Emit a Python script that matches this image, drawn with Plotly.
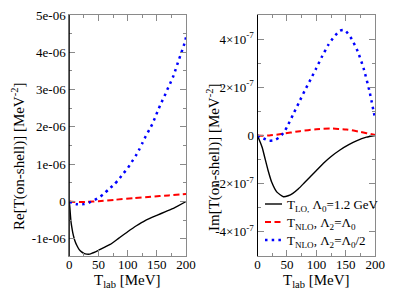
import plotly.graph_objects as go

# ---------------- data ----------------
# Left panel: Re[T(on-shell)]  (MeV^-2)
re_lo_T = [0, 1, 2, 3, 4, 6, 8, 10, 13, 17, 21, 25, 30, 35, 40, 50, 60, 70, 85, 100, 115, 130, 150, 165, 180, 200]
re_lo_V = [0, -0.17, -0.38, -0.55, -0.66, -0.84, -0.97, -1.07, -1.18, -1.29, -1.35, -1.39, -1.41, -1.41, -1.38,
           -1.31, -1.23, -1.15, -0.98, -0.81, -0.65, -0.51, -0.37, -0.27, -0.17, 0.0]
re_nlo1_T = [0, 10, 20, 30, 50, 80, 110, 140, 170, 200]
re_nlo1_V = [0, -0.01, -0.015, -0.01, 0.01, 0.05, 0.09, 0.13, 0.165, 0.2]
re_nlo2_T = [0, 5, 13, 25, 37, 48, 58, 67, 77, 85, 93, 100, 107, 114, 120, 125, 131, 137, 143, 148, 153,
             158, 163, 168, 173, 178, 182, 186, 190, 194, 198, 200]
re_nlo2_V = [0, -0.04, -0.07, -0.07, -0.01, 0.08, 0.19, 0.32, 0.46, 0.6, 0.76, 0.89, 1.06, 1.23, 1.4, 1.56,
             1.75, 1.92, 2.1, 2.29, 2.48, 2.66, 2.82, 3.0, 3.17, 3.35, 3.53, 3.72, 3.9, 4.08, 4.27, 4.4]
re_scale = 1e-6

# Right panel: Im[T(on-shell)]  (MeV^-2)
im_lo_T = [0, 2, 5, 8, 12, 18, 24, 33, 44, 52, 60, 70, 80, 90, 100, 112, 125, 140, 155, 168, 185, 200]
im_lo_V = [0, -0.12, -0.3, -0.5, -0.88, -1.45, -1.93, -2.35, -2.54, -2.5, -2.4, -2.2, -1.95, -1.7, -1.45,
           -1.15, -0.87, -0.6, -0.38, -0.22, -0.07, 0]
im_nlo1_T = [0, 10, 20, 40, 72, 100, 123, 151, 175, 196, 200]
im_nlo1_V = [0, -0.01, 0.0, 0.06, 0.18, 0.26, 0.29, 0.25, 0.15, 0.04, 0.02]
im_nlo2_T = [0, 10, 20, 28, 36, 44, 50, 60, 70, 80, 90, 100, 110, 120, 130, 140, 145, 150, 160, 170, 180, 190, 200]
im_nlo2_V = [0, -0.12, -0.22, -0.2, -0.1, 0.1, 0.35, 0.85, 1.35, 1.85, 2.32, 2.8, 3.3, 3.75, 4.1, 4.35, 4.38,
             4.33, 4.0, 3.5, 2.8, 1.85, 0.65]
im_scale = 1e-7

x_ticks = [0, 50, 100, 150, 200]
re_ytick_vals = [-1e-06, 0, 1e-06, 2e-06, 3e-06, 4e-06, 5e-06]
re_ytick_text = ["-1e-06", "0", "1e-06", "2e-06", "3e-06", "4e-06", "5e-06"]
im_ytick_vals = [-4e-07, -2e-07, 0, 2e-07, 4e-07]
im_ytick_text = ["-4×10<sup>-7</sup>", "-2×10<sup>-7</sup>", "0", "2×10<sup>-7</sup>", "4×10<sup>-7</sup>"]

legend_names = ["T<sub>LO,</sub> Λ<sub>0</sub>=1.2 GeV",
                "T<sub>NLO</sub>, Λ<sub>2</sub>=Λ<sub>0</sub>",
                "T<sub>NLO</sub>, Λ<sub>2</sub>=Λ<sub>0</sub>/2"]

# ---------------- styles ----------------
FONT = "Liberation Serif, Times New Roman, Times, serif"
BLACK = "#000000"
RED = "#ff0000"
BLUE = "#0000ff"
FRAME = "#8a8a8a"
DASH = "6px,3.5px"
DOT = "2.5px,4.2px"

fig = go.Figure()

def add(xs, ys, scale, color, dash, width, xa, ya):
    fig.add_trace(go.Scatter(x=xs, y=[v * scale for v in ys], mode="lines",
                             line=dict(color=color, dash=dash, width=width, shape="spline", smoothing=0.5),
                             xaxis=xa, yaxis=ya, showlegend=False, hoverinfo="skip"))

add(re_lo_T, re_lo_V, re_scale, BLACK, "solid", 1.4, "x", "y")
add(re_nlo1_T, re_nlo1_V, re_scale, RED, DASH, 2, "x", "y")
add(re_nlo2_T, re_nlo2_V, re_scale, BLUE, DOT, 2.5, "x", "y")
add(im_lo_T, im_lo_V, im_scale, BLACK, "solid", 1.4, "x2", "y2")
add(im_nlo1_T, im_nlo1_V, im_scale, RED, DASH, 2, "x2", "y2")
add(im_nlo2_T, im_nlo2_V, im_scale, BLUE, DOT, 2.5, "x2", "y2")

W, H = 415, 294
def px(x): return x / W
def py(y): return 1 - y / H

top, bottom = 15, 256
L1, R1 = 69.3, 186.0
L2, R2 = 257.5, 375.3

tickfont = dict(family=FONT, size=13, color="black")
common_x = dict(range=[0, 200], tickvals=x_ticks, ticks="inside", ticklen=6, tickcolor=FRAME,
                showline=True, linecolor=FRAME, linewidth=1, mirror="allticks", showgrid=False,
                zeroline=False, tickfont=tickfont, automargin=False, ticklabelstandoff=-4,
                minor=dict(dtick=25, ticks="inside", ticklen=3, tickcolor=FRAME, showgrid=False))
fig.update_layout(
    template="none",
    font=dict(family=FONT, size=13, color="black"),
    width=W, height=H, margin=dict(l=0, r=0, t=0, b=0, pad=0),
    paper_bgcolor="white", plot_bgcolor="white", showlegend=False,
    xaxis=dict(domain=[px(L1), px(R1)], anchor="y", **common_x),
    xaxis2=dict(domain=[px(L2), px(R2)], anchor="y2", **common_x),
    yaxis=dict(domain=[py(bottom), py(top)], anchor="x", range=[-1.46e-06, 5e-06],
               tickvals=re_ytick_vals, ticktext=re_ytick_text, ticks="inside", ticklen=6, tickcolor=FRAME,
               showline=True, linecolor=FRAME, mirror="allticks", showgrid=False, zeroline=False,
               tickfont=tickfont, automargin=False,
               minor=dict(tickvals=[-5e-07, 5e-07, 1.5e-06, 2.5e-06, 3.5e-06, 4.5e-06], ticks="inside",
                          ticklen=3, tickcolor=FRAME, showgrid=False)),
    yaxis2=dict(domain=[py(bottom), py(top)], anchor="x2", range=[-5e-07, 5e-07],
                tickvals=im_ytick_vals, ticktext=im_ytick_text, ticks="inside", ticklen=6, tickcolor=FRAME,
                showline=True, linecolor=FRAME, mirror="allticks", showgrid=False, zeroline=False,
                tickfont=tickfont, automargin=False,
                minor=dict(tickvals=[-3e-07, -1e-07, 1e-07, 3e-07], ticks="inside",
                           ticklen=3, tickcolor=FRAME, showgrid=False)),
)

# left edges drawn darker as in the reference
for L in (L1, L2):
    fig.add_shape(type="line", xref="paper", yref="paper", x0=px(L), x1=px(L), y0=py(bottom), y1=py(top),
                  line=dict(color="black", width=1))

titlefont = dict(family=FONT, size=15, color="black")
# axis titles
fig.add_annotation(text="Re[T(on-shell)] [MeV<sup>-2</sup>]", textangle=-90, xref="paper", yref="paper",
                   x=px(18), y=py(157), xanchor="center", yanchor="middle", showarrow=False, font=titlefont)
fig.add_annotation(text="Im[T(on-shell)] [MeV<sup>-2</sup>]", textangle=-90, xref="paper", yref="paper",
                   x=px(213), y=py(157), xanchor="center", yanchor="middle", showarrow=False, font=titlefont)
for cx in ((L1 + R1) / 2, (L2 + R2) / 2):
    fig.add_annotation(text="T<sub>lab</sub> [MeV]", xref="paper", yref="paper",
                       x=px(cx), y=py(281), xanchor="center", yanchor="middle", showarrow=False, font=titlefont)

# manual legend
leg_rows = [204, 222, 240]
leg_styles = [(BLACK, "solid", 1.4), (RED, DASH, 2), (BLUE, DOT, 2.5)]
for yrow, name, (c, d, w) in zip(leg_rows, legend_names, leg_styles):
    fig.add_shape(type="line", xref="paper", yref="paper", x0=px(265), x1=px(282), y0=py(yrow), y1=py(yrow),
                  line=dict(color=c, dash=d, width=w))
    fig.add_annotation(text=name, xref="paper", yref="paper", x=px(285), y=py(yrow + 1), xanchor="left",
                       yanchor="middle", showarrow=False, font=dict(family=FONT, size=13, color="black"))

fig.write_html("out.html", config={"displayModeBar": False},
               post_script="document.body.style.margin='0px';")
